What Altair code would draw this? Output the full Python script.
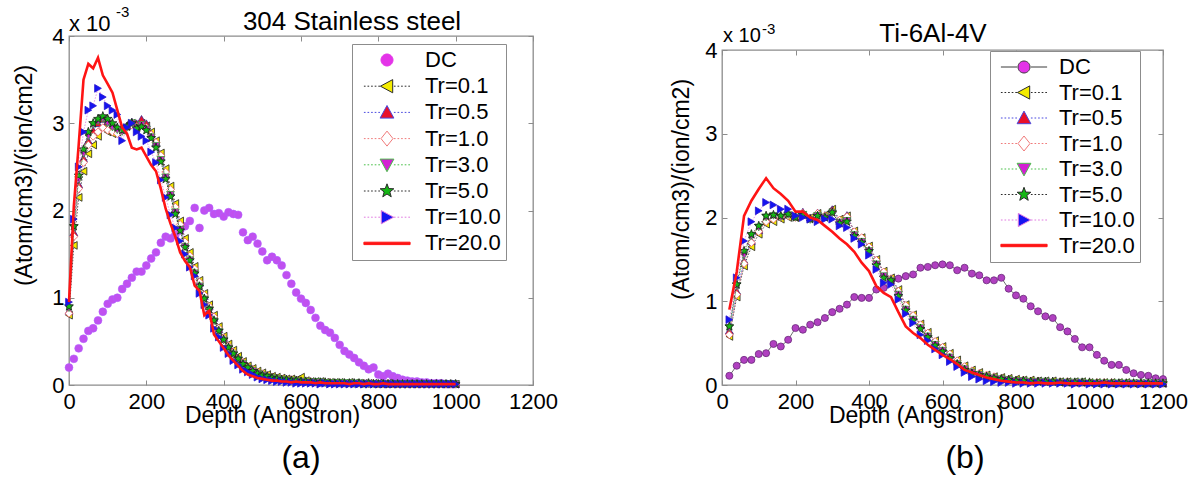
import math
import altair as alt
import pandas as pd

FONT = "Liberation Sans"
SERIES = ["DC", "Tr=0.1", "Tr=0.5", "Tr=1.0", "Tr=3.0", "Tr=5.0", "Tr=10.0", "Tr=20.0"]
X_TICKS = [0, 200, 400, 600, 800, 1000, 1200]
Y_TICKS = [0, 1, 2, 3, 4]

# ---------------- panel (a): 304 Stainless steel (values x 1e-3) ----------------
A_DEPTH = [round(12.5 * i, 1) for i in range(81)]
A_DC = [0.20, 0.30, 0.42, 0.53, 0.62, 0.65, 0.74, 0.84, 0.93, 0.98,
        1.00, 1.10, 1.16, 1.23, 1.30, 1.30, 1.37, 1.45, 1.52, 1.63,
        1.70, 1.68, 1.72, 1.77, 1.82, 1.88, 2.03, 1.80, 2.00, 2.03,
        1.96, 1.97, 1.93, 1.98, 1.96, 1.95, 1.75, 1.66, 1.70, 1.62,
        1.53, 1.43, 1.47, 1.43, 1.37, 1.26, 1.16, 1.06, 0.99, 0.94,
        0.86, 0.77, 0.68, 0.63, 0.60, 0.54, 0.46, 0.39, 0.35, 0.31,
        0.26, 0.22, 0.18, 0.20, 0.12, 0.10, 0.13, 0.10, 0.08, 0.06,
        0.05, 0.04, 0.04, 0.03, 0.03, 0.02, 0.02, 0.02, 0.01, 0.01,
        0.01]
A_T01 = [0.80, 1.60, 2.15, 2.45, 2.65, 2.75, 2.85, 2.95, 2.90, 2.88,
         2.90, 2.92, 2.98, 3.00, 2.95, 3.00, 2.97, 2.90, 2.80, 2.66,
         2.48, 2.28, 2.08, 1.88, 1.68, 1.52, 1.36, 1.20, 1.05, 0.92,
         0.80, 0.67, 0.56, 0.47, 0.40, 0.33, 0.27, 0.22, 0.19, 0.16,
         0.14, 0.12, 0.10, 0.09, 0.08, 0.07, 0.07, 0.06, 0.09, 0.05,
         0.04, 0.04, 0.04, 0.03, 0.03, 0.03, 0.03, 0.02, 0.03, 0.02,
         0.02, 0.02, 0.02, 0.02, 0.02, 0.01, 0.02, 0.01, 0.01, 0.01,
         0.01, 0.01, 0.01, 0.01, 0.01, 0.01, 0.01, 0.01, 0.01, 0.01,
         0.01]
A_T05 = [0.85, 1.75, 2.30, 2.60, 2.80, 2.92, 3.00, 3.05, 3.02, 2.98,
         2.95, 2.93, 2.97, 3.02, 3.00, 3.05, 3.00, 2.88, 2.78, 2.62,
         2.42, 2.22, 2.02, 1.82, 1.62, 1.47, 1.32, 1.17, 1.02, 0.90,
         0.77, 0.64, 0.54, 0.45, 0.37, 0.31, 0.26, 0.21, 0.18, 0.15,
         0.13, 0.11, 0.09, 0.08, 0.07, 0.06, 0.06, 0.05, 0.05, 0.04,
         0.04, 0.04, 0.03, 0.03, 0.03, 0.03, 0.02, 0.02, 0.02, 0.02,
         0.02, 0.02, 0.02, 0.02, 0.01, 0.02, 0.01, 0.01, 0.01, 0.01,
         0.01, 0.01, 0.01, 0.01, 0.01, 0.01, 0.01, 0.01, 0.01, 0.01,
         0.01]
A_T10 = [0.82, 1.70, 2.25, 2.55, 2.75, 2.85, 2.90, 2.95, 2.92, 2.90,
         2.88, 2.92, 2.95, 2.98, 2.96, 2.98, 2.95, 2.87, 2.78, 2.63,
         2.44, 2.24, 2.04, 1.84, 1.64, 1.48, 1.33, 1.18, 1.03, 0.90,
         0.78, 0.65, 0.54, 0.45, 0.38, 0.31, 0.26, 0.21, 0.18, 0.15,
         0.13, 0.11, 0.09, 0.08, 0.07, 0.06, 0.06, 0.05, 0.05, 0.04,
         0.04, 0.03, 0.03, 0.03, 0.03, 0.02, 0.02, 0.02, 0.02, 0.02,
         0.02, 0.02, 0.01, 0.02, 0.01, 0.01, 0.02, 0.01, 0.01, 0.01,
         0.01, 0.01, 0.01, 0.01, 0.01, 0.01, 0.01, 0.01, 0.01, 0.01,
         0.01]
A_T30 = [0.88, 1.80, 2.35, 2.65, 2.85, 2.98, 3.02, 3.05, 3.00, 2.95,
         2.92, 2.90, 2.95, 3.00, 2.95, 2.98, 2.93, 2.84, 2.74, 2.58,
         2.38, 2.18, 1.98, 1.78, 1.58, 1.43, 1.28, 1.13, 0.98, 0.86,
         0.73, 0.61, 0.51, 0.42, 0.35, 0.29, 0.24, 0.19, 0.16, 0.13,
         0.11, 0.09, 0.08, 0.07, 0.06, 0.05, 0.05, 0.04, 0.04, 0.03,
         0.03, 0.03, 0.03, 0.02, 0.02, 0.02, 0.02, 0.02, 0.02, 0.01,
         0.02, 0.01, 0.01, 0.01, 0.01, 0.01, 0.01, 0.01, 0.01, 0.01,
         0.01, 0.01, 0.01, 0.01, 0.01, 0.01, 0.01, 0.01, 0.01, 0.01,
         0.01]
A_T50 = [0.90, 1.82, 2.40, 2.70, 2.90, 3.00, 3.05, 3.08, 3.05, 3.00,
         2.95, 2.92, 2.96, 3.00, 2.94, 2.96, 2.92, 2.83, 2.72, 2.56,
         2.36, 2.16, 1.96, 1.77, 1.58, 1.43, 1.28, 1.13, 0.99, 0.87,
         0.74, 0.62, 0.52, 0.43, 0.36, 0.30, 0.24, 0.20, 0.16, 0.13,
         0.11, 0.10, 0.08, 0.07, 0.06, 0.06, 0.05, 0.05, 0.04, 0.04,
         0.03, 0.03, 0.03, 0.03, 0.02, 0.02, 0.02, 0.02, 0.02, 0.02,
         0.02, 0.01, 0.02, 0.01, 0.01, 0.01, 0.01, 0.01, 0.01, 0.01,
         0.01, 0.01, 0.01, 0.01, 0.01, 0.01, 0.01, 0.01, 0.01, 0.01,
         0.01]
A_T100 = [0.95, 1.90, 2.50, 2.90, 3.15, 3.20, 3.40, 3.30, 3.20, 3.15,
          3.10, 2.80, 2.95, 3.00, 2.90, 2.85, 2.80, 2.67, 2.55, 2.35,
          2.15, 1.95, 1.80, 1.65, 1.50, 1.35, 1.25, 1.05, 0.92, 0.80,
          0.65, 0.55, 0.43, 0.36, 0.28, 0.23, 0.18, 0.15, 0.12, 0.09,
          0.07, 0.06, 0.05, 0.04, 0.04, 0.03, 0.03, 0.02, 0.02, 0.02,
          0.02, 0.02, 0.01, 0.02, 0.01, 0.01, 0.01, 0.01, 0.01, 0.01,
          0.01, 0.01, 0.01, 0.01, 0.01, 0.01, 0.01, 0.01, 0.01, 0.01,
          0.01, 0.01, 0.01, 0.01, 0.01, 0.01, 0.01, 0.01, 0.01, 0.01,
          0.01]
A_T200 = [0.95, 2.05, 2.75, 3.50, 3.68, 3.63, 3.75, 3.55, 3.45, 3.35,
          3.15, 2.95, 2.88, 2.72, 2.70, 2.72, 2.62, 2.52, 2.45, 2.25,
          2.02, 1.85, 1.70, 1.52, 1.42, 1.35, 1.14, 1.08, 0.80, 0.85,
          0.58, 0.50, 0.42, 0.34, 0.28, 0.22, 0.16, 0.12, 0.10, 0.08,
          0.07, 0.06, 0.05, 0.05, 0.04, 0.04, 0.03, 0.04, 0.03, 0.03,
          0.03, 0.02, 0.03, 0.02, 0.02, 0.02, 0.02, 0.02, 0.01, 0.02,
          0.02, 0.01, 0.02, 0.01, 0.01, 0.02, 0.01, 0.01, 0.01, 0.01,
          0.01, 0.01, 0.01, 0.01, 0.01, 0.01, 0.01, 0.01, 0.01, 0.01,
          0.01]

# ---------------- panel (b): Ti-6Al-4V (values x 1e-3) ----------------
B_DEPTH = [20 * (i + 1) for i in range(60)]
B_DC = [0.11, 0.23, 0.30, 0.30, 0.37, 0.38, 0.49, 0.46, 0.54, 0.68,
        0.66, 0.72, 0.75, 0.80, 0.87, 0.91, 0.96, 1.05, 1.04, 1.04,
        1.14, 1.16, 1.25, 1.27, 1.30, 1.32, 1.40, 1.41, 1.43, 1.44,
        1.43, 1.37, 1.40, 1.33, 1.31, 1.25, 1.25, 1.28, 1.15, 1.07,
        1.03, 0.94, 0.88, 0.82, 0.80, 0.69, 0.64, 0.55, 0.45, 0.45,
        0.36, 0.29, 0.24, 0.24, 0.18, 0.14, 0.12, 0.11, 0.08, 0.07]
B_T01 = [0.58, 1.05, 1.42, 1.65, 1.80, 1.92, 1.95, 1.98, 2.00, 2.00,
         2.03, 2.00, 2.05, 2.03, 2.10, 1.98, 2.02, 1.84, 1.76, 1.66,
         1.50, 1.36, 1.28, 1.14, 0.96, 0.84, 0.73, 0.63, 0.53, 0.46,
         0.38, 0.30, 0.23, 0.18, 0.15, 0.12, 0.10, 0.09, 0.08, 0.07,
         0.06, 0.06, 0.05, 0.05, 0.05, 0.04, 0.04, 0.04, 0.04, 0.03,
         0.03, 0.03, 0.03, 0.03, 0.03, 0.02, 0.02, 0.02, 0.02, 0.02]
B_T05 = [0.65, 1.12, 1.48, 1.72, 1.85, 1.98, 2.02, 2.02, 2.05, 2.02,
         2.07, 2.00, 2.06, 2.03, 2.10, 1.96, 2.03, 1.82, 1.75, 1.64,
         1.48, 1.34, 1.27, 1.12, 0.94, 0.82, 0.71, 0.61, 0.51, 0.44,
         0.36, 0.28, 0.21, 0.17, 0.14, 0.11, 0.09, 0.08, 0.07, 0.06,
         0.05, 0.05, 0.05, 0.04, 0.04, 0.04, 0.03, 0.03, 0.03, 0.03,
         0.03, 0.03, 0.02, 0.02, 0.02, 0.02, 0.02, 0.02, 0.02, 0.02]
B_T10 = [0.60, 1.08, 1.45, 1.70, 1.83, 1.95, 1.98, 2.00, 2.02, 2.00,
         2.05, 1.99, 2.05, 2.02, 2.07, 1.97, 2.01, 1.83, 1.76, 1.65,
         1.49, 1.35, 1.27, 1.12, 0.95, 0.83, 0.72, 0.62, 0.52, 0.45,
         0.37, 0.29, 0.22, 0.17, 0.14, 0.12, 0.10, 0.08, 0.07, 0.06,
         0.06, 0.05, 0.05, 0.04, 0.04, 0.04, 0.04, 0.03, 0.03, 0.03,
         0.03, 0.03, 0.03, 0.02, 0.02, 0.02, 0.02, 0.02, 0.02, 0.02]
B_T30 = [0.68, 1.18, 1.55, 1.78, 1.88, 2.00, 2.02, 2.00, 2.03, 2.00,
         2.03, 1.97, 2.02, 2.00, 2.05, 1.94, 1.96, 1.79, 1.71, 1.60,
         1.44, 1.30, 1.24, 1.08, 0.90, 0.78, 0.68, 0.58, 0.48, 0.41,
         0.33, 0.25, 0.19, 0.15, 0.12, 0.10, 0.08, 0.07, 0.06, 0.05,
         0.05, 0.04, 0.04, 0.04, 0.03, 0.03, 0.03, 0.03, 0.03, 0.02,
         0.02, 0.02, 0.02, 0.02, 0.02, 0.02, 0.02, 0.02, 0.02, 0.02]
B_T50 = [0.70, 1.20, 1.60, 1.80, 1.90, 2.02, 2.03, 2.02, 2.04, 2.00,
         2.03, 1.98, 2.02, 2.00, 2.06, 1.93, 1.95, 1.78, 1.70, 1.60,
         1.43, 1.28, 1.25, 1.06, 0.89, 0.77, 0.67, 0.57, 0.47, 0.40,
         0.32, 0.25, 0.18, 0.14, 0.12, 0.10, 0.08, 0.07, 0.06, 0.05,
         0.05, 0.04, 0.04, 0.04, 0.04, 0.03, 0.03, 0.03, 0.03, 0.03,
         0.02, 0.02, 0.02, 0.02, 0.02, 0.02, 0.02, 0.02, 0.02, 0.02]
B_T100 = [0.78, 1.28, 1.72, 1.95, 2.08, 2.18, 2.15, 2.10, 2.10, 2.02,
          2.00, 1.98, 1.95, 1.98, 1.98, 1.90, 1.88, 1.75, 1.68, 1.55,
          1.38, 1.22, 1.20, 1.02, 0.85, 0.74, 0.60, 0.53, 0.43, 0.36,
          0.28, 0.22, 0.15, 0.10, 0.07, 0.05, 0.04, 0.03, 0.03, 0.02,
          0.02, 0.02, 0.02, 0.02, 0.02, 0.02, 0.02, 0.01, 0.02, 0.01,
          0.01, 0.01, 0.01, 0.01, 0.01, 0.01, 0.01, 0.01, 0.01, 0.01]
B_T200 = [0.90, 1.35, 2.02, 2.20, 2.34, 2.47, 2.35, 2.28, 2.20, 2.07,
          2.07, 2.00, 1.97, 1.90, 1.83, 1.75, 1.68, 1.59, 1.46, 1.36,
          1.18, 1.10, 1.05, 0.87, 0.70, 0.62, 0.56, 0.48, 0.42, 0.36,
          0.31, 0.25, 0.18, 0.15, 0.12, 0.09, 0.07, 0.05, 0.04, 0.03,
          0.03, 0.02, 0.03, 0.02, 0.02, 0.03, 0.02, 0.02, 0.02, 0.02,
          0.02, 0.03, 0.02, 0.02, 0.02, 0.02, 0.02, 0.02, 0.02, 0.02]

A_VALUES = dict(zip(SERIES, [A_DC, A_T01, A_T05, A_T10, A_T30, A_T50, A_T100, A_T200]))
B_VALUES = dict(zip(SERIES, [B_DC, B_T01, B_T05, B_T10, B_T30, B_T50, B_T100, B_T200]))
for _v in A_VALUES.values():
    assert len(_v) == len(A_DEPTH)
for _v in B_VALUES.values():
    assert len(_v) == len(B_DEPTH)


def long_table(depths, values):
    rows = []
    for name in SERIES:
        for d, v in zip(depths, values[name]):
            rows.append({"depth": d, "value": v, "series": name})
    return pd.DataFrame(rows)


# ---------------- styles ----------------
GRAY = "#8c8c8c"


def star_path(ro=1.2, ri=0.5):
    pts = []
    for k in range(10):
        r = ro if k % 2 == 0 else ri
        a = -math.pi / 2 + k * math.pi / 5
        pts.append(f"{r * math.cos(a):.3f},{r * math.sin(a):.3f}")
    return "M" + "L".join(pts) + "Z"


STAR = star_path()
CIRCLE_P = "M1,0A1,1,0,1,1,-1,0A1,1,0,1,1,1,0Z"
TRI_L = "M-1.1,0L0.95,-1.1L0.95,1.1Z"
TRI_U = "M0,-1.15L1.15,0.95L-1.15,0.95Z"
DIAM = "M0,-1.25L1.0,0L0,1.25L-1.0,0Z"
TRI_D = "M0,1.15L1.15,-0.95L-1.15,-0.95Z"
TRI_R = "M1.1,0L-0.95,-1.1L-0.95,1.1Z"
L0, GAPM = 3.85, 1.15


def dotted(x0, x1, dash=0.28, gap=0.32):
    out, x = [], x0
    while x < x1 - 1e-6:
        w = min(dash, x1 - x)
        out.append(f"M{x:.2f},0H{x + w:.2f}")
        x += dash + gap
    return "".join(out)


def with_line(marker, solid=False):
    if solid:
        line = f"M{-L0},0H{-GAPM}M{GAPM},0H{L0}"
    else:
        line = dotted(-L0, -GAPM) + dotted(GAPM, L0)
    return line + marker


BAR = f"M{-L0},-0.2H{L0}V0.2H{-L0}Z"
LEG_TR_PATHS = [with_line(TRI_L), with_line(TRI_U), with_line(DIAM),
                with_line(TRI_D), with_line(STAR), with_line(TRI_R), BAR]
LEG_FILLS = ["#e433e8", "#f4ec00", "#e8102a", "#ffffff", "#d21fd2", "#14b814", "#1414f0", "#ff1414"]
LEG_STROKES_A = ["#e433e8", "#2a2a2a", "#4a4ae0", "#f07a7a", "#4ac04a", "#2a2a2a", "#e07ae0", "#ff1414"]
LEG_STROKES_B = ["#3a3a3a", "#2a2a2a", "#4a4ae0", "#f07a7a", "#4ac04a", "#2a2a2a", "#e07ae0", "#ff1414"]

PLOT_STYLE = {
    "Tr=0.1": {"shape": "triangle-left", "fill": "#f4ec00", "stroke": "#222222", "line": "#222222", "size": 60},
    "Tr=0.5": {"shape": "triangle-up", "fill": "#e8102a", "stroke": "#3a2a90", "line": "#4a4ae0", "size": 60},
    "Tr=1.0": {"shape": "diamond", "fill": "#ffffff", "stroke": "#f05a5a", "line": "#f07a7a", "size": 60},
    "Tr=3.0": {"shape": "triangle-down", "fill": "#d21fd2", "stroke": "#3aa03a", "line": "#5ac85a", "size": 60},
    "Tr=5.0": {"shape": STAR, "fill": "#14b814", "stroke": "#1a1a1a", "line": "#2a2a2a", "size": 60},
    "Tr=10.0": {"shape": "triangle-right", "fill": "#1414f0", "stroke": "#2a14d0", "line": "#e07ae0", "size": 60},
}

NOTE_DF = pd.DataFrame({"k": [0]})


def note(text, x, y, size, align="left"):
    return alt.Chart(NOTE_DF).mark_text(
        text=text, align=align, baseline="alphabetic", font=FONT, fontSize=size, color="black"
    ).encode(x=alt.value(x), y=alt.value(y))


def build_panel(df, W, H, dc_line, dc_fill, dc_stroke, dc_size, leg_paths, leg_strokes,
                xtitle_x, ytitle_x, ytitle_y, leg_x, leg_y, sym_off, lab_off, row_pad, notes):
    xs = alt.Scale(domain=[0, 1200], nice=False, zero=False)
    ys = alt.Scale(domain=[0, 4], nice=False, zero=False)

    def enc(mark, ax_x=None, ax_y=None):
        return mark.encode(x=alt.X("depth:Q", scale=xs, axis=ax_x),
                           y=alt.Y("value:Q", scale=ys, axis=ax_y))

    ax_bottom = alt.Axis(orient="bottom", values=X_TICKS, format="d", ticks=False, domain=False, grid=False,
                         labelFont=FONT, labelFontSize=22, labelColor="black", labelPadding=6,
                         labelFlush=False, labelOverlap=False,
                         title="Depth (Angstron)", titleFont=FONT, titleFontSize=23,
                         titleFontWeight="normal", titleColor="black", titleX=xtitle_x, titleY=37,
                         titleAlign="center", titleBaseline="alphabetic", titleAngle=0)
    ax_left = alt.Axis(orient="left", values=Y_TICKS, format="d", ticks=False, domain=False, grid=False,
                       labelFont=FONT, labelFontSize=22, labelColor="black", labelPadding=5,
                       labelFlush=False, labelOverlap=False,
                       title="(Atom/cm3)/(ion/cm2)", titleFont=FONT, titleFontSize=23,
                       titleFontWeight="normal", titleColor="black", titleX=ytitle_x, titleY=ytitle_y,
                       titleAngle=270, titleAlign="center", titleBaseline="middle")
    tick_common = dict(labels=False, domain=False, grid=False, ticks=True, tickSize=5,
                       tickColor=GRAY, tickWidth=1, title=None)
    ax_xb = alt.Axis(orient="top", offset=-H, values=X_TICKS, **tick_common)
    ax_xt = alt.Axis(orient="bottom", offset=-H, values=X_TICKS, **tick_common)
    ax_yl = alt.Axis(orient="right", offset=-W, values=Y_TICKS, **tick_common)
    ax_yr = alt.Axis(orient="left", offset=-W, values=Y_TICKS, **tick_common)

    base = alt.Chart(df)
    layers = []
    dc = base.transform_filter(alt.datum.series == "DC")
    if dc_line:
        layers.append(enc(dc.mark_line(color=dc_line, strokeWidth=1), ax_bottom, ax_left))
        layers.append(enc(dc.mark_point(shape="circle", filled=True, fill=dc_fill, stroke=dc_stroke,
                                         strokeWidth=0.8, size=dc_size, opacity=1)))
    else:
        layers.append(enc(dc.mark_point(shape="circle", filled=True, fill=dc_fill, stroke=dc_stroke,
                                         strokeWidth=0.6, size=dc_size, opacity=1), ax_bottom, ax_left))
    tick_axes = [(ax_xb, ax_yl), (ax_xt, ax_yr)]
    for k, name in enumerate(SERIES[1:7]):
        st = PLOT_STYLE[name]
        sub = base.transform_filter(alt.datum.series == name)
        axx, axy = tick_axes[k] if k < 2 else (None, None)
        layers.append(enc(sub.mark_line(color=st["line"], strokeWidth=0.8, strokeDash=[1.5, 1.5]), axx, axy))
        layers.append(enc(sub.mark_point(shape=st["shape"], filled=True, fill=st["fill"], stroke=st["stroke"],
                                          strokeWidth=0.8, size=st["size"], opacity=1)))
    red = base.transform_filter(alt.datum.series == "Tr=20.0")
    layers.append(enc(red.mark_line(color="#ff1414", strokeWidth=2.6)))

    leg = alt.Legend(title=None, orient="none", legendX=leg_x, legendY=leg_y, padding=5,
                     strokeColor=GRAY, fillColor="white", cornerRadius=0,
                     labelFont=FONT, labelFontSize=22, labelColor="black",
                     symbolSize=144, symbolStrokeWidth=1, symbolOffset=sym_off,
                     labelOffset=lab_off, rowPadding=row_pad,
                     labelExpr="datum.label + '     '")
    legend_layer = alt.Chart(df).transform_filter("false").mark_point(
        filled=True, size=144, opacity=1, strokeWidth=1
    ).encode(
        shape=alt.Shape("series:N", scale=alt.Scale(domain=SERIES, range=leg_paths), legend=leg),
        fill=alt.Fill("series:N", scale=alt.Scale(domain=SERIES, range=LEG_FILLS), legend=leg),
        stroke=alt.Stroke("series:N", scale=alt.Scale(domain=SERIES, range=leg_strokes), legend=leg),
    )
    layers.append(legend_layer)
    layers.extend(notes)
    return alt.layer(*layers).resolve_axis(x="independent", y="independent").properties(
        width=W, height=H, view=alt.ViewBackground(stroke=GRAY, strokeWidth=1.3)
    )


WA, HA = 464, 349
WB, HB = 441, 335

left = build_panel(
    long_table(A_DEPTH, A_VALUES), WA, HA,
    dc_line=None, dc_fill="#c050f0", dc_stroke="#b060ff", dc_size=62,
    leg_paths=[CIRCLE_P] + LEG_TR_PATHS, leg_strokes=LEG_STROKES_A,
    xtitle_x=203, ytitle_x=-45, ytitle_y=139,
    leg_x=283, leg_y=8, sym_off=19, lab_off=27, row_pad=4.2,
    notes=[note("x 10", 0, -5, 22), note("-3", 47, -19, 15),
           note("304 Stainless steel", 283, -6, 26, "center"),
           note("(a)", 232, 432, 32, "center")],
)

# right panel sits under a 14 px spacer, so its legend position is measured from the spacer top
right_panel = build_panel(
    long_table(B_DEPTH, B_VALUES), WB, HB,
    dc_line="#6e6e6e", dc_fill="#b040c0", dc_stroke="#6a2a7a", dc_size=50,
    leg_paths=[with_line(CIRCLE_P, solid=True)] + LEG_TR_PATHS, leg_strokes=LEG_STROKES_B,
    xtitle_x=194, ytitle_x=-41, ytitle_y=139,
    leg_x=268, leg_y=15, sym_off=18, lab_off=24, row_pad=3.5,
    notes=[note("x 10", 1, -8, 20), note("-3", 40, -16, 15),
           note("Ti-6Al-4V", 211, -8, 26, "center"),
           note("(b)", 243, 418, 32, "center")],
)

spacer = alt.Chart(NOTE_DF).mark_point(opacity=0).encode(
    x=alt.value(0), y=alt.value(0)
).properties(width=WB, height=14, view=alt.ViewBackground(stroke="transparent"))

right = alt.vconcat(spacer, right_panel, spacing=0, bounds="flush")

chart = alt.hconcat(left, right, spacing=189, bounds="flush").resolve_scale(
    shape="independent", fill="independent", stroke="independent"
).resolve_legend(
    shape="independent", fill="independent", stroke="independent"
).properties(
    padding={"left": 12, "top": 4, "right": 0, "bottom": 0}, background="white"
).configure_view(stroke="transparent").configure_axis(grid=False)

chart.save("out.html", embed_options={"renderer": "svg", "actions": False})
